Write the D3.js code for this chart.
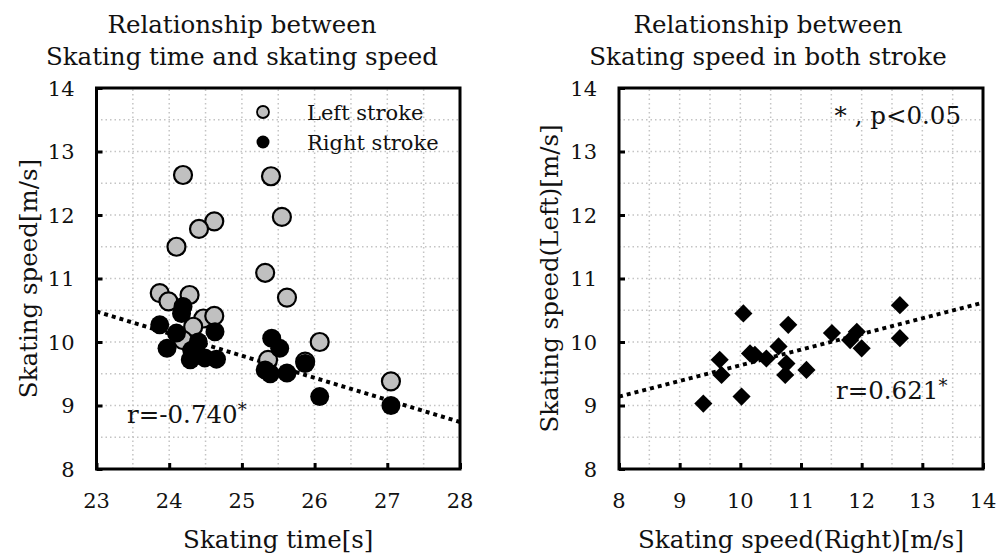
<!DOCTYPE html>
<html>
<head>
<meta charset="utf-8">
<script src="https://cdn.jsdelivr.net/npm/d3@7"></script>
<style>
  body { margin: 0; background: #fff; }
  text { font-family: "DejaVu Serif", serif; fill: #111; }
</style>
</head>
<body>
<div id="chart-area"></div>
<script>
// left chart: skating time vs speed
var leftTime  = [24.19, 25.40, 25.55, 24.62, 24.41, 24.10, 25.32, 23.87, 23.99, 24.28, 24.47, 24.62, 24.33, 24.19, 25.62, 26.07, 25.36, 25.87, 27.05];
var leftSpeed = [12.63, 12.61, 11.97, 11.90, 11.78, 11.50, 11.09, 10.77, 10.64, 10.74, 10.37, 10.41, 10.24, 10.03, 10.70, 10.00, 9.72, 9.69, 9.38];
var rightTime  = [23.87, 24.19, 24.17, 24.10, 23.97, 24.40, 24.29, 24.49, 24.65, 24.63, 24.31, 25.41, 25.52, 25.32, 25.39, 25.62, 25.87, 26.07, 27.05];
var rightSpeed = [10.27, 10.56, 10.45, 10.14, 9.90, 10.00, 9.72, 9.75, 9.73, 10.16, 9.87, 10.06, 9.90, 9.56, 9.50, 9.51, 9.66, 9.14, 9.00];
var timeTrend = [[23, 10.48], [28, 8.74]];

// right chart: right speed vs left speed
var bothRight = [9.39, 9.66, 9.69, 10.02, 10.05, 10.16, 10.24, 10.43, 10.63, 10.74, 10.76, 10.79, 11.09, 11.51, 11.81, 11.92, 12.00, 12.63, 12.63];
var bothLeft  = [9.03, 9.72, 9.48, 9.14, 10.45, 9.82, 9.80, 9.74, 9.93, 9.48, 9.66, 10.27, 9.56, 10.14, 10.03, 10.16, 9.90, 10.58, 10.06];
var speedTrend = [[8, 9.14], [14, 10.62]];

var timeTicks = [23, 24, 25, 26, 27, 28];
var speedTicks = [8, 9, 10, 11, 12, 13, 14];

var svg = d3.select("#chart-area").append("svg")
    .attr("width", 1000)
    .attr("height", 557);

function panel(opt) {
    var x = d3.scaleLinear().domain(opt.xDomain).range(opt.xRange);
    var y = d3.scaleLinear().domain([8, 14]).range([469, 88]);
    var g = svg.append("g");

    // dotted grid every 0.5
    var xg = d3.range(opt.xDomain[0] + 0.5, opt.xDomain[1], 0.5);
    var yg = d3.range(8.5, 14, 0.5);
    g.selectAll(".vg").data(xg).enter().append("line")
        .attr("x1", d => x(d)).attr("x2", d => x(d))
        .attr("y1", y(8)).attr("y2", y(14))
        .attr("stroke", "#c4c4c4").attr("stroke-width", 1.5)
        .attr("stroke-dasharray", "1.5,3");
    g.selectAll(".hg").data(yg).enter().append("line")
        .attr("x1", x.range()[0]).attr("x2", x.range()[1])
        .attr("y1", d => y(d)).attr("y2", d => y(d))
        .attr("stroke", "#c4c4c4").attr("stroke-width", 1.5)
        .attr("stroke-dasharray", "1.5,3");

    // axes with inward ticks, labels drawn separately
    var xAxis = g.append("g").attr("transform", "translate(0," + y(8) + ")")
        .call(d3.axisTop(x).tickValues(opt.xTicks).tickSize(6).tickFormat(""));
    var yAxis = g.append("g").attr("transform", "translate(" + x.range()[0] + ",0)")
        .call(d3.axisRight(y).tickValues(speedTicks).tickSize(6).tickFormat(""));
    [xAxis, yAxis].forEach(a => {
        a.select(".domain").remove();
        a.selectAll("line").attr("stroke", "#000").attr("stroke-width", 3);
    });

    g.append("rect")
        .attr("x", x.range()[0]).attr("y", y(14))
        .attr("width", x.range()[1] - x.range()[0])
        .attr("height", y(8) - y(14))
        .attr("fill", "none").attr("stroke", "#000").attr("stroke-width", 3);

    g.selectAll(".xl").data(opt.xTicks).enter().append("text")
        .attr("x", d => x(d)).attr("y", 508)
        .attr("text-anchor", "middle").attr("font-size", 21)
        .text(d => d);
    g.selectAll(".yl").data(speedTicks).enter().append("text")
        .attr("x", x.range()[0] - 22).attr("y", d => y(d)).attr("dy", "0.36em")
        .attr("text-anchor", "end").attr("font-size", 21)
        .text(d => d);

    // titles
    var cx = (x.range()[0] + x.range()[1]) / 2;
    g.append("text").attr("x", opt.titleX).attr("y", 33)
        .attr("text-anchor", "middle").attr("font-size", 24.5).text("Relationship between");
    g.append("text").attr("x", opt.titleX).attr("y", 65)
        .attr("text-anchor", "middle").attr("font-size", 24.5).text(opt.title);

    g.append("text").attr("x", cx).attr("y", 548)
        .attr("text-anchor", "middle").attr("font-size", 24.5).text(opt.xLabel);
    g.append("text")
        .attr("transform", "translate(" + opt.yLabelX + "," + y(11) + ") rotate(-90)")
        .attr("text-anchor", "middle").attr("font-size", 24.5).text(opt.yLabel);

    return {g: g, x: x, y: y};
}

// ---- left panel
var p1 = panel({
    xDomain: [23, 28], xRange: [96.5, 460], xTicks: timeTicks,
    titleX: 242, title: "Skating time and skating speed",
    xLabel: "Skating time[s]", yLabel: "Skating speed[m/s]", yLabelX: 37
});

p1.g.append("line")
    .attr("x1", p1.x(timeTrend[0][0])).attr("y1", p1.y(timeTrend[0][1]))
    .attr("x2", p1.x(timeTrend[1][0])).attr("y2", p1.y(timeTrend[1][1]))
    .attr("stroke", "#000").attr("stroke-width", 4).attr("stroke-dasharray", "4,4");

p1.g.selectAll(".lg").data(leftTime).enter().append("circle")
    .attr("cx", d => p1.x(d)).attr("cy", (d, i) => p1.y(leftSpeed[i]))
    .attr("r", 9).attr("fill", "#c0c0c0").attr("stroke", "#000").attr("stroke-width", 2.2);
p1.g.selectAll(".rg").data(rightTime).enter().append("circle")
    .attr("cx", d => p1.x(d)).attr("cy", (d, i) => p1.y(rightSpeed[i]))
    .attr("r", 9.5).attr("fill", "#000");

// legend
p1.g.append("circle").attr("cx", 263).attr("cy", 112).attr("r", 6)
    .attr("fill", "#c0c0c0").attr("stroke", "#000").attr("stroke-width", 1.8);
p1.g.append("circle").attr("cx", 263).attr("cy", 142).attr("r", 6.5).attr("fill", "#000");
p1.g.append("text").attr("x", 307).attr("y", 120).attr("font-size", 21).text("Left stroke");
p1.g.append("text").attr("x", 307).attr("y", 150).attr("font-size", 21).text("Right stroke");

var r1 = p1.g.append("text").attr("x", 127).attr("y", 423).attr("font-size", 24.5);
r1.append("tspan").text("r=-0.740");
r1.append("tspan").attr("dy", -7).attr("font-size", 18).text("*");

// ---- right panel
var p2 = panel({
    xDomain: [8, 14], xRange: [619, 983], xTicks: speedTicks,
    titleX: 768, title: "Skating speed in both stroke",
    xLabel: "Skating speed(Right)[m/s]", yLabel: "Skating speed(Left)[m/s]", yLabelX: 558
});

p2.g.append("line")
    .attr("x1", p2.x(speedTrend[0][0])).attr("y1", p2.y(speedTrend[0][1]))
    .attr("x2", p2.x(speedTrend[1][0])).attr("y2", p2.y(speedTrend[1][1]))
    .attr("stroke", "#000").attr("stroke-width", 4).attr("stroke-dasharray", "4,4");

p2.g.selectAll(".dm").data(bothRight).enter().append("path")
    .attr("d", d3.symbol().type(d3.symbolDiamond2).size(210))
    .attr("transform", (d, i) => "translate(" + p2.x(d) + "," + p2.y(bothLeft[i]) + ")")
    .attr("fill", "#000");

var r2 = p2.g.append("text").attr("x", 836).attr("y", 399).attr("font-size", 24.5);
r2.append("tspan").text("r=0.621");
r2.append("tspan").attr("dy", -7).attr("font-size", 18).text("*");

p2.g.append("text").attr("x", 961).attr("y", 124).attr("text-anchor", "end")
    .attr("font-size", 24.5).text("* , p<0.05");
</script>
</body>
</html>
